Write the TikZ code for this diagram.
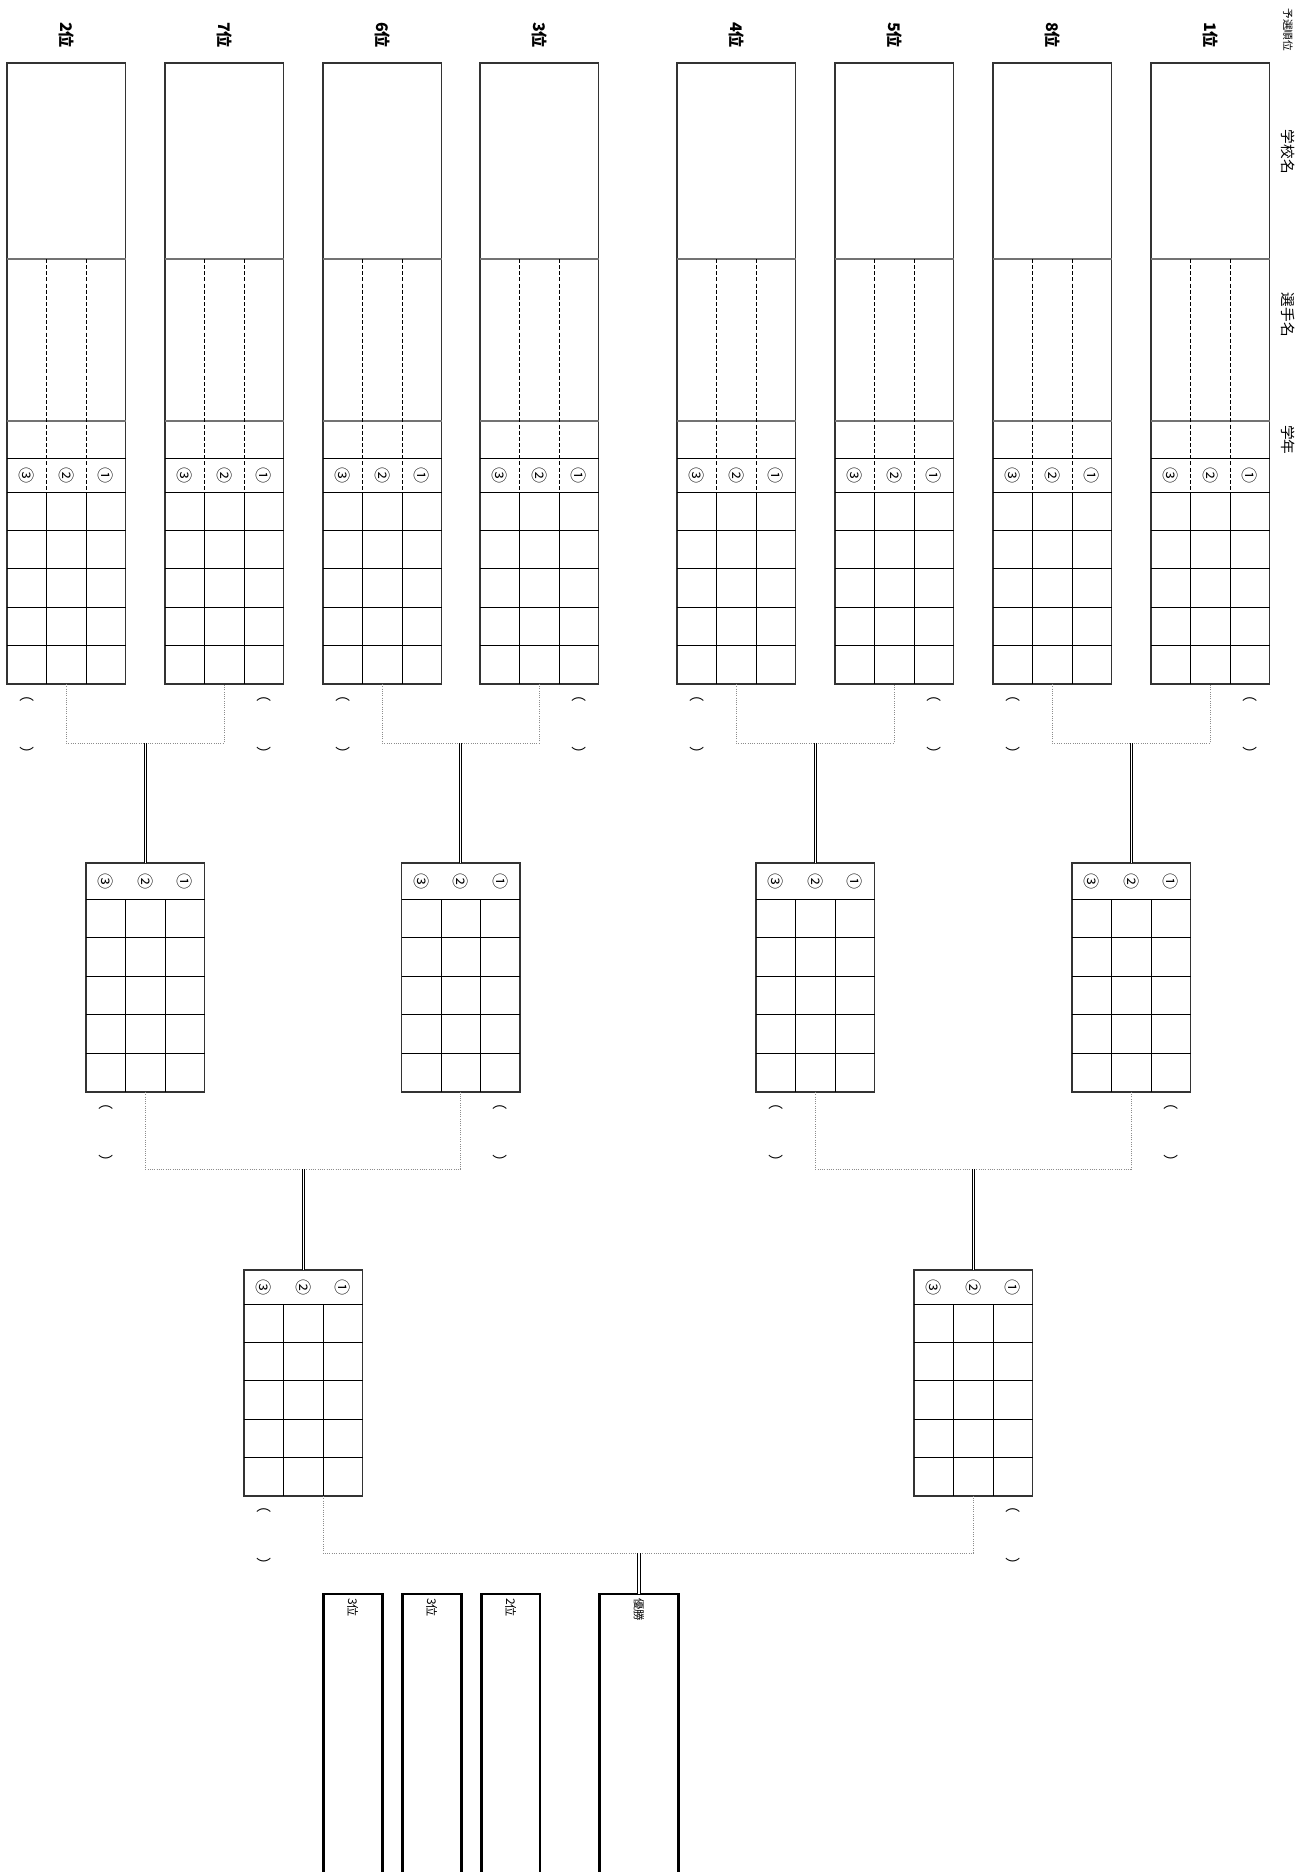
\documentclass[tikz,border=0pt]{standalone}
\usepackage{fontspec}
\setmainfont{Noto Sans CJK JP}
\begin{document}
\begin{tikzpicture}[x=0.75pt,y=-0.75pt,
	frame/.style={draw=black!80,line width=1pt},
	sep/.style={black!55,line width=0.8pt},
	grid/.style={black,line width=0.75pt},
	divline/.style={black,line width=0.6pt,dash pattern=on 3pt off 1.6pt},
	conn/.style={black!45,line width=0.7pt,densely dotted},
	dbl/.style={black,line width=0.75pt,double,double distance=1.1pt},
	finbox/.style={line width=2pt},
	lbl/.style={rotate=-90,inner sep=0pt,font=\fontsize{11}{11}\selectfont},
	rank/.style={lbl,font=\fontsize{12}{12}\bfseries},
	num/.style={lbl,font=\fontsize{12}{12}\selectfont}]
	\useasboundingbox (0,0) rectangle (1304,1872);
	\clip (0,0) rectangle (1304,1872);
	\fill[white] (0,0) rectangle (1304,1872);
	\node[lbl,font=\fontsize{8}{8}\selectfont] (h0) at (1288,30) {予選順位};
	\node[lbl] (h1) at (1288,152) {学校名};
	\node[lbl] (h2) at (1288,315) {選手名};
	\node[lbl] (h3) at (1288,440) {学年};
	\foreach \x/\r/\p [count=\i] in {7/2/19.75,165/7/98.75,323/6/19.75,480/3/98.75,677/4/19.75,835/5/98.75,993/8/19.75,1151/1/98.75}{
		\node[rank] (r\i) at (\x+59.25,35) {\r{}位};
		\draw[frame] (\x,63) rectangle (\x+118.5,684);
		\draw[sep] (\x,259)--(\x+118.5,259) (\x,421)--(\x+118.5,421);
		\draw[divline] (\x+39.5,259)--(\x+39.5,492) (\x+79,259)--(\x+79,492);
		\foreach \y in {458,492,530.4,568.8,607.2,645.6} \draw[grid] (\x,\y)--(\x+118.5,\y);
		\draw[grid] (\x+39.5,492)--(\x+39.5,684) (\x+79,492)--(\x+79,684);
		\node[num] (a\i-3) at (\x+19.75,475) {③};
		\node[num] (a\i-2) at (\x+59.25,475) {②};
		\node[num] (a\i-1) at (\x+98.75,475) {①};
		\node[lbl] (p\i) at (\x+\p,724) {（　　　）};
		\coordinate (b\i) at (\x+59.25,684);
	}
	\foreach \x/\p [count=\k] in {86/19.75,401.5/98.75,756/19.75,1072/98.75}{
		\draw[frame] (\x,863) rectangle (\x+118.5,1092);
		\foreach \y in {899,937.6,976.2,1014.8,1053.4} \draw[grid] (\x,\y)--(\x+118.5,\y);
		\draw[grid] (\x+39.5,899)--(\x+39.5,1092) (\x+79,899)--(\x+79,1092);
		\node[num] (c\k-3) at (\x+19.75,881) {③};
		\node[num] (c\k-2) at (\x+59.25,881) {②};
		\node[num] (c\k-1) at (\x+98.75,881) {①};
		\node[lbl] (q\k) at (\x+\p,1132) {（　　　）};
		\coordinate (t\k) at (\x+59.25,863);
		\coordinate (m\k) at (\x+59.25,743);
		\coordinate (d\k) at (\x+59.25,1092);
	}
	\foreach \u/\v/\k in {1/2/1,3/4/2,5/6/3,7/8/4}{
		\draw[conn] (b\u) |- (m\k) -| (b\v);
		\draw[dbl] (m\k)--(t\k);
	}
	\foreach \x/\p/\o [count=\s] in {244/19.75/79,914/98.75/59.25}{
		\draw[frame] (\x,1270) rectangle (\x+118.5,1496);
		\foreach \y in {1304,1342.4,1380.8,1419.2,1457.6} \draw[grid] (\x,\y)--(\x+118.5,\y);
		\draw[grid] (\x+39.5,1304)--(\x+39.5,1496) (\x+79,1304)--(\x+79,1496);
		\node[num] (e\s-3) at (\x+19.75,1287) {③};
		\node[num] (e\s-2) at (\x+59.25,1287) {②};
		\node[num] (e\s-1) at (\x+98.75,1287) {①};
		\node[lbl] (sp\s) at (\x+\p,1535) {（　　　）};
		\coordinate (st\s) at (\x+59.25,1270);
		\coordinate (sm\s) at (\x+59.25,1169);
		\coordinate (sd\s) at (\x+\o,1496);
	}
	\draw[conn] (d1) |- (sm1) -| (d2);
	\draw[conn] (d3) |- (sm2) -| (d4);
	\draw[dbl] (sm1)--(st1);
	\draw[dbl] (sm2)--(st2);
	\foreach \x/\w/\t/\fs [count=\f] in {323.3/59/3位/9,402.3/59/3位/9,481.3/58.7/2位/9,599.3/79/優勝/8.5}{
		\draw[finbox] (\x,1594) rectangle (\x+\w,1890);
		\node[lbl,anchor=west,font=\fontsize{\fs}{\fs}\selectfont] (g\f) at (\x+\w/2,1598) {\t};
	}
	\coordinate (fm) at (638.8,1553);
	\coordinate (ft) at (638.8,1594);
	\draw[conn] (sd1) |- (fm) -| (sd2);
	\draw[dbl] (fm)--(ft);
\end{tikzpicture}
\end{document}
